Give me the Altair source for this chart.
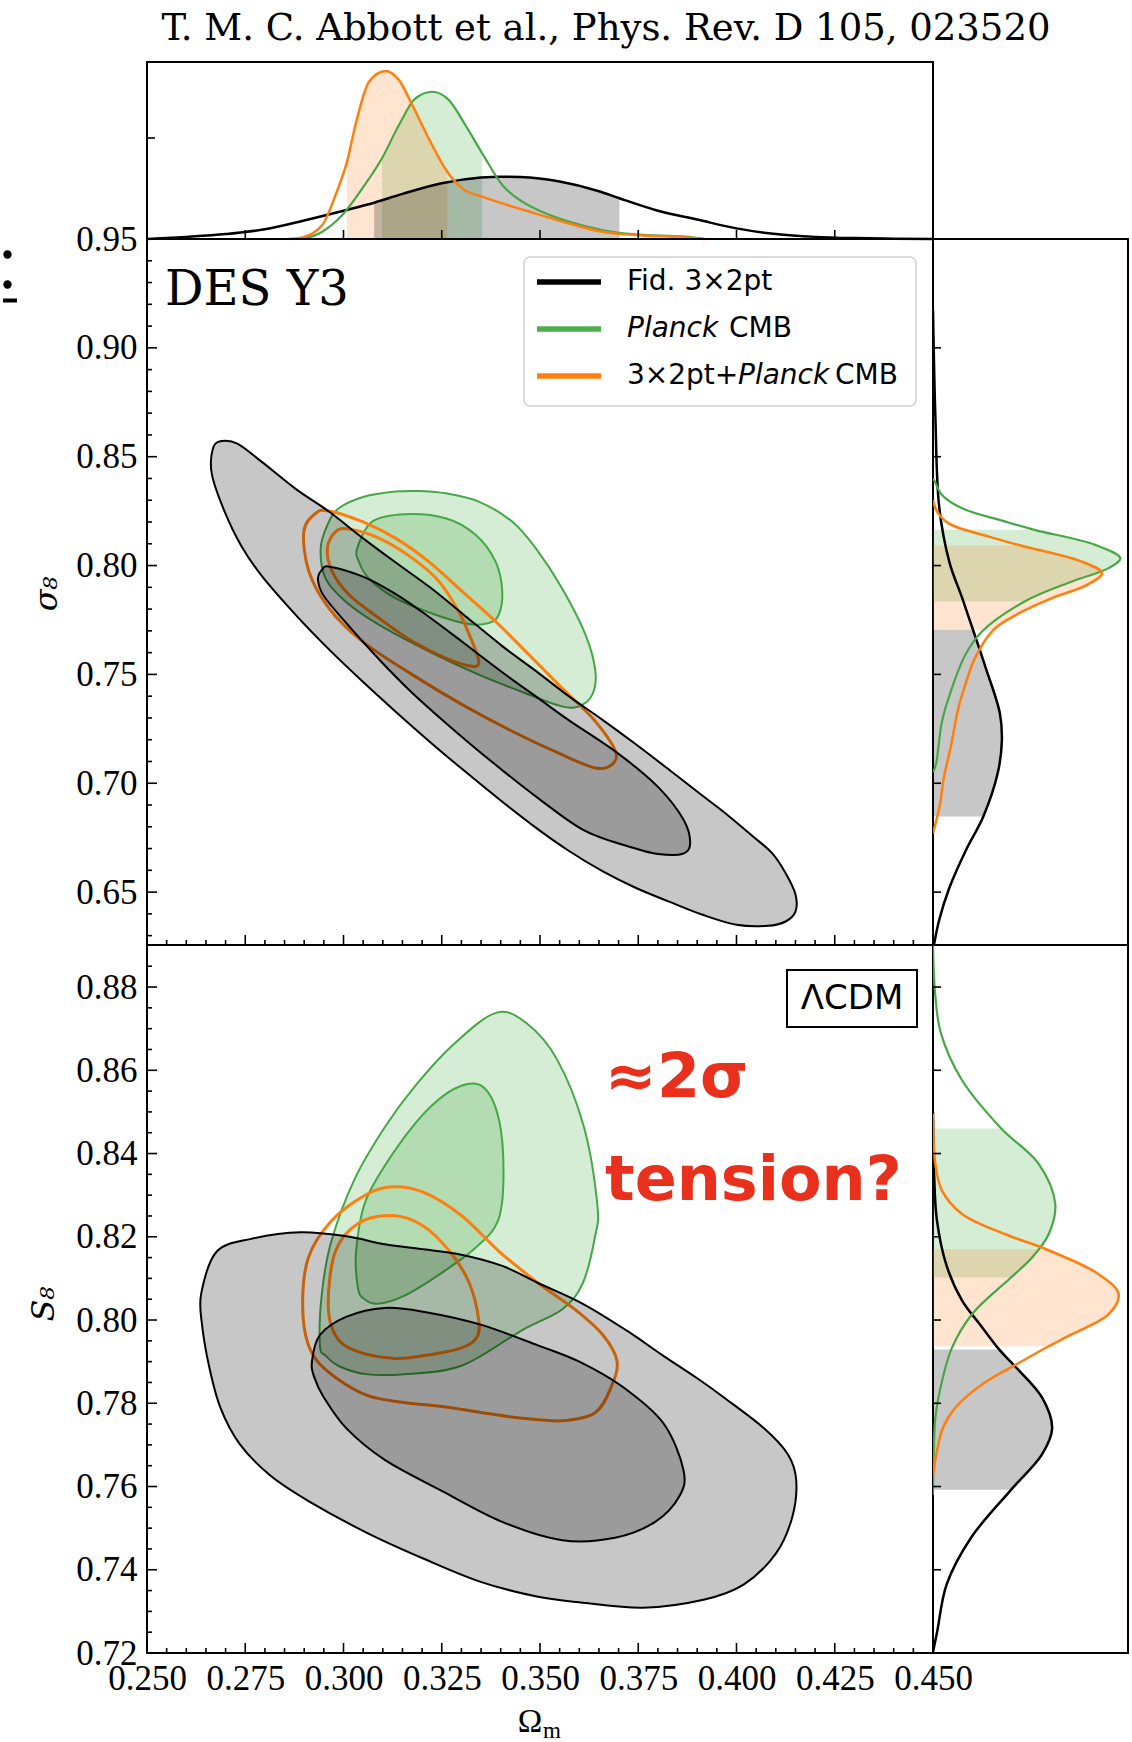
import altair as alt
import pandas as pd

# ---------------- panel geometry (plot areas, px) ----------------
W_MAIN, W_SIDE = 786, 195
H_TOP, H_SIG, H_S8 = 177, 706, 708

X_DOM = [0.25, 0.45]
SIG_DOM = [0.6257, 0.95]
S8_DOM = [0.72, 0.8901]
D_DOM = [0, 1]

# ---------------- tick values ----------------
OM_MAJOR = [0.250, 0.275, 0.300, 0.325, 0.350, 0.375, 0.400, 0.425, 0.450]
OM_INNER = [0.275, 0.300, 0.325, 0.350, 0.375, 0.400, 0.425]
OM_MINOR = [round(0.25 + 0.005 * k, 3) for k in range(1, 40) if k % 5 != 0]
SIG_MAJOR = [0.65, 0.70, 0.75, 0.80, 0.85, 0.90, 0.95]
SIG_MINOR = [round(0.60 + 0.01 * k, 2) for k in range(3, 35) if k % 5 != 0]
S8_MAJOR = [0.72, 0.74, 0.76, 0.78, 0.80, 0.82, 0.84, 0.86, 0.88]
S8_MINOR = [round(0.72 + 0.005 * k, 3) for k in range(1, 34) if k % 4 != 0]

# ---------------- 2D contours, sigma8 panel (Omega_m, sigma8) ----------------
sig_gray_outer_om = [0.2665, 0.2668, 0.2690, 0.2730, 0.2793, 0.2880, 0.2963, 0.3050, 0.3132, 0.3220,
                     0.3302, 0.3404, 0.3490, 0.3573, 0.3660, 0.3743, 0.3830, 0.3912, 0.3980, 0.4039,
                     0.4090, 0.4124, 0.4150, 0.4150, 0.4125, 0.4080, 0.4000, 0.3912, 0.3830, 0.3743,
                     0.3660, 0.3573, 0.3490, 0.3404, 0.3302, 0.3220, 0.3132, 0.3050, 0.2963, 0.2880,
                     0.2793, 0.2740, 0.2697]
sig_gray_outer_s = [0.8420, 0.8540, 0.8572, 0.8560, 0.8475, 0.8350, 0.8248, 0.8125, 0.8015, 0.7900,
                    0.7780, 0.7630, 0.7515, 0.7400, 0.7290, 0.7180, 0.7060, 0.6945, 0.6850, 0.6760,
                    0.6680, 0.6590, 0.6490, 0.6410, 0.6365, 0.6345, 0.6350, 0.6397, 0.6455, 0.6520,
                    0.6595, 0.6690, 0.6795, 0.6915, 0.7065, 0.7190, 0.7330, 0.7465, 0.7615, 0.7770,
                    0.7950, 0.8090, 0.8250]
sig_gray_inner_om = [0.2935, 0.2945, 0.2965, 0.3048, 0.3132, 0.3217, 0.3302, 0.3404, 0.3500, 0.3573,
                     0.3700, 0.3802, 0.3866, 0.3882, 0.3862, 0.3800, 0.3743, 0.3616, 0.3500, 0.3404,
                     0.3300, 0.3175, 0.3090, 0.3005, 0.2950]
sig_gray_inner_s = [0.7935, 0.7980, 0.7995, 0.7950, 0.7870, 0.7765, 0.7650, 0.7510, 0.7385, 0.7290,
                    0.7135, 0.6980, 0.6830, 0.6720, 0.6675, 0.6675, 0.6700, 0.6780, 0.6925, 0.7060,
                    0.7215, 0.7415, 0.7570, 0.7740, 0.7860]
sig_green_outer_om = [0.2942, 0.2960, 0.2988, 0.3050, 0.3132, 0.3200, 0.3260, 0.3344, 0.3429, 0.3489,
                      0.3556, 0.3616, 0.3641, 0.3633, 0.3599, 0.3556, 0.3472, 0.3344, 0.3217, 0.3090,
                      0.3005, 0.2954]
sig_green_outer_s = [0.8080, 0.8190, 0.8263, 0.8315, 0.8340, 0.8342, 0.8332, 0.8294, 0.8202, 0.8080,
                     0.7896, 0.7682, 0.7514, 0.7407, 0.7353, 0.7353, 0.7407, 0.7499, 0.7606, 0.7728,
                     0.7835, 0.7942]
sig_green_inner_om = [0.3035, 0.3073, 0.3158, 0.3260, 0.3336, 0.3387, 0.3404, 0.3395, 0.3370, 0.3319,
                      0.3234, 0.3132, 0.3064, 0.3039]
sig_green_inner_s = [0.8080, 0.8202, 0.8236, 0.8217, 0.8141, 0.8018, 0.7881, 0.7774, 0.7736, 0.7731,
                     0.7774, 0.7850, 0.7942, 0.8018]
sig_orange_outer_om = [0.2899, 0.2929, 0.2963, 0.3048, 0.3132, 0.3217, 0.3302, 0.3387, 0.3472, 0.3556,
                       0.3641, 0.3692, 0.3683, 0.3641, 0.3556, 0.3429, 0.3302, 0.3175, 0.3048, 0.2963,
                       0.2912]
sig_orange_outer_s = [0.8156, 0.8240, 0.8251, 0.8202, 0.8126, 0.8018, 0.7881, 0.7743, 0.7590, 0.7437,
                      0.7284, 0.7147, 0.7086, 0.7070, 0.7131, 0.7239, 0.7361, 0.7499, 0.7652, 0.7804,
                      0.7973]
sig_orange_inner_om = [0.2959, 0.2980, 0.3014, 0.3090, 0.3175, 0.3243, 0.3293, 0.3327, 0.3344, 0.3327,
                       0.3260, 0.3175, 0.3090, 0.3014, 0.2971]
sig_orange_inner_s = [0.8080, 0.8156, 0.8168, 0.8126, 0.8034, 0.7927, 0.7789, 0.7652, 0.7560, 0.7537,
                      0.7575, 0.7652, 0.7759, 0.7866, 0.7973]

# ---------------- 2D contours, S8 panel (Omega_m, S8) ----------------
s8_gray_outer_om = [0.2638, 0.2677, 0.2765, 0.2891, 0.3008, 0.3105, 0.3203, 0.3300, 0.3404, 0.3495,
                    0.3609, 0.3720, 0.3814, 0.3900, 0.3968, 0.4070, 0.4131, 0.4152, 0.4142, 0.4101,
                    0.4019, 0.3916, 0.3762, 0.3609, 0.3495, 0.3349, 0.3203, 0.3057, 0.2911, 0.2813,
                    0.2736, 0.2687, 0.2658, 0.2640]
s8_gray_outer_s = [0.8064, 0.8164, 0.8195, 0.8211, 0.8201, 0.8182, 0.8170, 0.8157, 0.8130, 0.8089,
                   0.8039, 0.7975, 0.7914, 0.7860, 0.7814, 0.7740, 0.7677, 0.7615, 0.7527, 0.7440,
                   0.7365, 0.7328, 0.7309, 0.7321, 0.7335, 0.7371, 0.7427, 0.7490, 0.7565, 0.7627,
                   0.7702, 0.7789, 0.7889, 0.7989]
s8_gray_inner_om = [0.2920, 0.2940, 0.3008, 0.3105, 0.3203, 0.3349, 0.3495, 0.3600, 0.3711, 0.3814,
                    0.3865, 0.3855, 0.3793, 0.3691, 0.3557, 0.3404, 0.3251, 0.3105, 0.3008, 0.2950,
                    0.2925]
s8_gray_inner_s = [0.7902, 0.7964, 0.8008, 0.8029, 0.8020, 0.7989, 0.7939, 0.7900, 0.7839, 0.7752,
                   0.7640, 0.7577, 0.7515, 0.7477, 0.7471, 0.7515, 0.7589, 0.7664, 0.7739, 0.7814,
                   0.7864]
s8_green_outer_om = [0.2940, 0.2945, 0.2969, 0.3028, 0.3105, 0.3183, 0.3281, 0.3388, 0.3466, 0.3544,
                     0.3612, 0.3646, 0.3640, 0.3609, 0.3557, 0.3455, 0.3300, 0.3154, 0.3057, 0.2989,
                     0.2955]
s8_green_outer_s = [0.7939, 0.8064, 0.8189, 0.8338, 0.8463, 0.8563, 0.8663, 0.8738, 0.8713, 0.8625,
                    0.8463, 0.8276, 0.8200, 0.8089, 0.8026, 0.7976, 0.7890, 0.7870, 0.7870, 0.7889,
                    0.7914]
s8_green_inner_om = [0.3037, 0.3032, 0.3057, 0.3135, 0.3222, 0.3300, 0.3359, 0.3397, 0.3407, 0.3393,
                     0.3339, 0.3251, 0.3154, 0.3086, 0.3052]
s8_green_inner_s = [0.8076, 0.8164, 0.8288, 0.8413, 0.8513, 0.8563, 0.8557, 0.8475, 0.8338, 0.8238,
                    0.8176, 0.8114, 0.8058, 0.8039, 0.8051]
s8_orange_outer_om = [0.2896, 0.2911, 0.2969, 0.3057, 0.3125, 0.3203, 0.3300, 0.3397, 0.3495, 0.3588,
                      0.3660, 0.3696, 0.3681, 0.3640, 0.3557, 0.3455, 0.3397, 0.3251, 0.3154, 0.3057,
                      0.2959, 0.2911]
s8_orange_outer_s = [0.8039, 0.8151, 0.8238, 0.8301, 0.8320, 0.8307, 0.8251, 0.8164, 0.8089, 0.8026,
                     0.7964, 0.7901, 0.7839, 0.7777, 0.7758, 0.7764, 0.7771, 0.7792, 0.7802, 0.7820,
                     0.7877, 0.7939]
s8_orange_inner_om = [0.2961, 0.2979, 0.3037, 0.3125, 0.3203, 0.3271, 0.3320, 0.3344, 0.3339, 0.3300,
                      0.3203, 0.3125, 0.3028, 0.2979]
s8_orange_inner_s = [0.8039, 0.8164, 0.8232, 0.8251, 0.8226, 0.8164, 0.8089, 0.8001, 0.7958, 0.7933,
                     0.7914, 0.7908, 0.7927, 0.7964]

# ---------------- 1D marginal of Omega_m (relative height) ----------------
top_black_om = [0.250, 0.260, 0.270, 0.280, 0.290, 0.300, 0.3078, 0.315, 0.325, 0.335, 0.340, 0.345,
                0.355, 0.365, 0.3702, 0.380, 0.390, 0.400, 0.410, 0.420, 0.430, 0.440, 0.450]
top_black_h = [0.000, 0.012, 0.028, 0.055, 0.105, 0.160, 0.205, 0.255, 0.315, 0.347, 0.352, 0.350,
               0.325, 0.270, 0.230, 0.160, 0.110, 0.060, 0.028, 0.012, 0.005, 0.002, 0.000]
top_green_om = [0.2895, 0.2946, 0.2997, 0.3048, 0.3098, 0.3141, 0.3183, 0.3226, 0.3268, 0.3310,
                0.3353, 0.3404, 0.3455, 0.3505, 0.3573, 0.3658, 0.3743, 0.3870, 0.392]
top_green_h = [0.000, 0.041, 0.135, 0.286, 0.456, 0.644, 0.794, 0.832, 0.785, 0.644,
               0.484, 0.305, 0.211, 0.154, 0.098, 0.051, 0.026, 0.013, 0.000]
top_orange_om = [0.286, 0.2895, 0.2946, 0.2980, 0.3009, 0.3031, 0.3065, 0.3107, 0.3141, 0.3175,
                 0.3217, 0.3264, 0.3302, 0.3353, 0.3404, 0.3488, 0.3573, 0.3658, 0.3743, 0.3870, 0.392]
top_orange_h = [0.000, 0.009, 0.079, 0.250, 0.437, 0.650, 0.889, 0.949, 0.898, 0.757,
                0.568, 0.380, 0.286, 0.239, 0.201, 0.145, 0.088, 0.041, 0.022, 0.009, 0.000]
top_black_band = [0.3078, 0.3702]
top_green_band = [0.3098, 0.3353]
top_orange_band = [0.3009, 0.3264]

# ---------------- 1D marginal of sigma8 ----------------
rs_black_v = [0.6257, 0.6373, 0.6520, 0.6689, 0.6847, 0.7047, 0.7194, 0.7321, 0.7531,
              0.7705, 0.7850, 0.8016, 0.8268, 0.8690, 0.9174]
rs_black_d = [0.005, 0.032, 0.084, 0.167, 0.258, 0.332, 0.353, 0.343, 0.270,
              0.205, 0.150, 0.084, 0.032, 0.012, 0.000]
rs_green_v = [0.7050, 0.7086, 0.7284, 0.7437, 0.7590, 0.7697, 0.7835, 0.7927, 0.7988, 0.8033,
              0.8095, 0.8164, 0.8202, 0.8263, 0.8324, 0.8385, 0.8400]
rs_green_d = [0.000, 0.015, 0.046, 0.097, 0.166, 0.251, 0.470, 0.713, 0.901, 0.961,
              0.832, 0.520, 0.371, 0.149, 0.046, 0.010, 0.000]
rs_orange_v = [0.677, 0.690, 0.7024, 0.7162, 0.7345, 0.7437, 0.7575, 0.7705, 0.7780, 0.7850,
               0.7911, 0.7965, 0.8018, 0.8092, 0.8133, 0.8194, 0.8248, 0.8300]
rs_orange_d = [0.000, 0.035, 0.055, 0.090, 0.130, 0.160, 0.215, 0.310, 0.440, 0.610,
               0.790, 0.867, 0.764, 0.450, 0.286, 0.080, 0.021, 0.000]
rs_black_band = [0.6847, 0.7705]
rs_green_band = [0.7835, 0.8164]
rs_orange_band = [0.7705, 0.8092]

# ---------------- 1D marginal of S8 ----------------
r8_black_v = [0.7202, 0.7253, 0.7365, 0.7477, 0.7592, 0.7677, 0.7740, 0.7814, 0.7889, 0.7929,
              0.7990, 0.8046, 0.8130, 0.8240, 0.8360, 0.8500]
r8_black_d = [0.000, 0.022, 0.070, 0.195, 0.400, 0.559, 0.611, 0.559, 0.420, 0.340,
              0.240, 0.150, 0.070, 0.020, 0.005, 0.000]
r8_green_v = [0.758, 0.768, 0.7765, 0.7853, 0.7933, 0.8014, 0.8102, 0.8150, 0.8206, 0.8279,
              0.8375, 0.8460, 0.8576, 0.869, 0.879, 0.890]
r8_green_d = [0.000, 0.004, 0.012, 0.046, 0.097, 0.200, 0.400, 0.508, 0.593, 0.627,
              0.542, 0.350, 0.149, 0.040, 0.010, 0.000]
r8_orange_v = [0.7627, 0.7689, 0.7740, 0.7789, 0.7845, 0.7901, 0.7937, 0.7966, 0.8014, 0.8062,
               0.8110, 0.8170, 0.8206, 0.8255, 0.8311, 0.8375, 0.8496]
r8_orange_d = [0.000, 0.022, 0.050, 0.114, 0.251, 0.456, 0.593, 0.713, 0.901, 0.952,
               0.850, 0.580, 0.371, 0.149, 0.046, 0.012, 0.000]
r8_black_band = [0.7592, 0.7929]
r8_green_band = [0.8102, 0.8460]
r8_orange_band = [0.7937, 0.8170]

# ---------------- styling ----------------
SERIF = "DejaVu Serif"
TICKFONT = "Liberation Serif"
SANS = "DejaVu Sans"
BLACK = "#000000"
GREEN = "#2ca02c"
GREEN_LINE = "#47a747"
ORANGE = "#ff7f0e"
RED = "#e8301c"
ONE = pd.DataFrame({"k": [0]})


def sc(dom):
    return alt.Scale(domain=dom, nice=False, zero=False)


def num_axis(vals, fmt, pad):
    return alt.Axis(values=vals, format=fmt, ticks=False, tickSize=0, domain=False, grid=False,
                    title="", labelFont=TICKFONT, labelFontSize=35, labelColor="black",
                    labelPadding=pad, labelFlush=False, labelOverlap=False)


SIG_AXIS = num_axis(SIG_MAJOR, ".2f", 10)
S8_AXIS = num_axis(S8_MAJOR, ".2f", 10)
X_AXIS = num_axis(OM_MAJOR, ".3f", 8)


def contour(om, v, ydom, xaxis, yaxis, stroke, sw, fill=None, fop=0.0):
    df = pd.DataFrame({"om": om, "v": v, "i": list(range(len(om)))})
    props = dict(interpolate="cardinal-closed", stroke=stroke, strokeWidth=sw, clip=True)
    if fill is not None:
        props.update(fill=fill, fillOpacity=fop)
    return alt.Chart(df).mark_line(**props).encode(
        x=alt.X("om:Q", scale=sc(X_DOM), axis=xaxis),
        y=alt.Y("v:Q", scale=sc(ydom), axis=yaxis),
        order=alt.Order("i:Q"),
    )


def yticks(vals, ydom, yaxis, length):
    df = pd.DataFrame({"v": vals})
    return alt.Chart(df).mark_rule(stroke="black", strokeWidth=1.6).encode(
        y=alt.Y("v:Q", scale=sc(ydom), axis=yaxis), x=alt.value(0), x2=alt.value(length))


def xticks(vals, xaxis, ypix, length):
    df = pd.DataFrame({"v": vals})
    return alt.Chart(df).mark_rule(stroke="black", strokeWidth=1.6).encode(
        x=alt.X("v:Q", scale=sc(X_DOM), axis=xaxis), y=alt.value(ypix), y2=alt.value(ypix - length))


def label(text, x, y, size, font=SANS, color="black", align="left", baseline="middle",
          style=None, weight=None, angle=None):
    props = dict(text=text, fontSize=size, font=font, color=color, align=align, baseline=baseline)
    if style:
        props["fontStyle"] = style
    if weight:
        props["fontWeight"] = weight
    if angle is not None:
        props["angle"] = angle
    return alt.Chart(ONE).mark_text(**props).encode(x=alt.value(x), y=alt.value(y))


def dot(x, y, size):
    return alt.Chart(ONE).mark_point(filled=True, color="black", size=size, opacity=1).encode(
        x=alt.value(x), y=alt.value(y))


def top_area(om, h, band, color, op):
    df = pd.DataFrame({"om": om, "h": h})
    return alt.Chart(df).transform_filter(
        (alt.datum.om >= band[0]) & (alt.datum.om <= band[1])
    ).mark_area(interpolate="monotone", color=color, opacity=op).encode(
        x=alt.X("om:Q", scale=sc(X_DOM), axis=None),
        y=alt.Y("h:Q", scale=sc(D_DOM), axis=None, stack=None))


def top_line(om, h, color, sw):
    df = pd.DataFrame({"om": om, "h": h})
    return alt.Chart(df).mark_line(interpolate="monotone", stroke=color, strokeWidth=sw).encode(
        x=alt.X("om:Q", scale=sc(X_DOM), axis=None),
        y=alt.Y("h:Q", scale=sc(D_DOM), axis=None))


def side_area(v, d, band, ydom, color, op):
    df = pd.DataFrame({"v": v, "d": d})
    return alt.Chart(df).transform_filter(
        (alt.datum.v >= band[0]) & (alt.datum.v <= band[1])
    ).mark_area(orient="horizontal", interpolate="catmull-rom", color=color, opacity=op).encode(
        y=alt.Y("v:Q", scale=sc(ydom), axis=None),
        x=alt.X("d:Q", scale=sc(D_DOM), axis=None, stack=None))


def side_line(v, d, ydom, color, sw):
    df = pd.DataFrame({"v": v, "d": d})
    return alt.Chart(df).mark_line(interpolate="catmull-rom", stroke=color, strokeWidth=sw,
                                   clip=True).encode(
        y=alt.Y("v:Q", scale=sc(ydom), axis=None),
        x=alt.X("d:Q", scale=sc(D_DOM), axis=None),
        order=alt.Order("v:Q"))


# ---------------- top marginal ----------------
top_layers = [
    top_area(top_green_om, top_green_h, top_green_band, GREEN, 0.2),
    top_area(top_orange_om, top_orange_h, top_orange_band, ORANGE, 0.2),
    top_area(top_black_om, top_black_h, top_black_band, BLACK, 0.22),
    top_line(top_black_om, top_black_h, BLACK, 2.5),
    top_line(top_green_om, top_green_h, GREEN_LINE, 2.2),
    top_line(top_orange_om, top_orange_h, ORANGE, 2.5),
    xticks(OM_INNER, None, H_TOP, 9),
    alt.Chart(ONE).mark_rule(stroke="black", strokeWidth=1.6).encode(
        x=alt.value(0), x2=alt.value(8), y=alt.value(76)),
    label("T. M. C. Abbott et al., Phys. Rev. D 105, 023520", 459, -22, 37, font=SERIF,
          align="center", baseline="alphabetic"),
    alt.Chart(ONE).mark_rule(opacity=0).encode(
        x=alt.value(-144.7), x2=alt.value(-144), y=alt.value(-61), y2=alt.value(-60)),
]
top = alt.layer(*top_layers).properties(width=W_MAIN, height=H_TOP)

blank = alt.Chart(ONE).mark_point(opacity=0).encode(
    x=alt.value(0), y=alt.value(0)
).properties(width=W_SIDE, height=H_TOP, view=alt.ViewBackground(stroke="transparent"))

# ---------------- sigma8 vs Omega_m ----------------
sig_layers = [
    contour(sig_green_outer_om, sig_green_outer_s, SIG_DOM, None, SIG_AXIS, GREEN_LINE, 2, GREEN, 0.2),
    contour(sig_green_inner_om, sig_green_inner_s, SIG_DOM, None, SIG_AXIS, GREEN_LINE, 2, GREEN, 0.2),
    contour(sig_orange_outer_om, sig_orange_outer_s, SIG_DOM, None, SIG_AXIS, ORANGE, 3),
    contour(sig_orange_inner_om, sig_orange_inner_s, SIG_DOM, None, SIG_AXIS, ORANGE, 3),
    contour(sig_gray_outer_om, sig_gray_outer_s, SIG_DOM, None, SIG_AXIS, BLACK, 2, BLACK, 0.22),
    contour(sig_gray_inner_om, sig_gray_inner_s, SIG_DOM, None, SIG_AXIS, BLACK, 2, BLACK, 0.22),
    yticks(SIG_MAJOR, SIG_DOM, SIG_AXIS, 10),
    yticks(SIG_MINOR, SIG_DOM, SIG_AXIS, 5),
    xticks(OM_INNER, None, H_SIG, 10),
    xticks(OM_MINOR, None, H_SIG, 5),
    label("DES Y3", 18, 66, 48, font=SERIF, baseline="alphabetic"),
    alt.Chart(ONE).mark_rect(fill="white", stroke="#cccccc", strokeWidth=1.5, cornerRadius=6,
                             opacity=0.9).encode(
        x=alt.value(377), x2=alt.value(769), y=alt.value(18), y2=alt.value(167)),
    alt.Chart(ONE).mark_rule(stroke=BLACK, strokeWidth=5.5).encode(
        x=alt.value(390), x2=alt.value(454), y=alt.value(43)),
    alt.Chart(ONE).mark_rule(stroke="#4caf4c", strokeWidth=5.5).encode(
        x=alt.value(390), x2=alt.value(454), y=alt.value(90)),
    alt.Chart(ONE).mark_rule(stroke=ORANGE, strokeWidth=5.5).encode(
        x=alt.value(390), x2=alt.value(454), y=alt.value(137)),
    label("Fid. 3×2pt", 480, 43, 28),
    label("Planck", 480, 90, 28, style="italic"),
    label("CMB", 582, 90, 28),
    label("3×2pt+", 480, 137, 28),
    label("Planck", 591, 137, 28, style="italic"),
    label("CMB", 688, 137, 28),
    label("σ₈", -100, 355, 32, font=SERIF, align="center", style="italic", angle=270),
    # cropped slide glyph at the very left edge
    dot(-139.5, 15.5, 70),
    dot(-139.5, 45.5, 70),
    alt.Chart(ONE).mark_rule(stroke="black", strokeWidth=4).encode(
        x=alt.value(-144), x2=alt.value(-130), y=alt.value(61.5)),
]
sig = alt.layer(*sig_layers).properties(width=W_MAIN, height=H_SIG)

sigr_layers = [
    side_area(rs_green_v, rs_green_d, rs_green_band, SIG_DOM, GREEN, 0.2),
    side_area(rs_orange_v, rs_orange_d, rs_orange_band, SIG_DOM, ORANGE, 0.2),
    side_area(rs_black_v, rs_black_d, rs_black_band, SIG_DOM, BLACK, 0.22),
    side_line(rs_black_v, rs_black_d, SIG_DOM, BLACK, 2.5),
    side_line(rs_green_v, rs_green_d, SIG_DOM, GREEN_LINE, 2.2),
    side_line(rs_orange_v, rs_orange_d, SIG_DOM, ORANGE, 2.5),
    yticks(SIG_MAJOR[:-1], SIG_DOM, None, 8),
]
sigr = alt.layer(*sigr_layers).properties(width=W_SIDE, height=H_SIG)

# ---------------- S8 vs Omega_m ----------------
s8_layers = [
    contour(s8_green_outer_om, s8_green_outer_s, S8_DOM, X_AXIS, S8_AXIS, GREEN_LINE, 2, GREEN, 0.2),
    contour(s8_green_inner_om, s8_green_inner_s, S8_DOM, X_AXIS, S8_AXIS, GREEN_LINE, 2, GREEN, 0.2),
    contour(s8_orange_outer_om, s8_orange_outer_s, S8_DOM, X_AXIS, S8_AXIS, ORANGE, 3),
    contour(s8_orange_inner_om, s8_orange_inner_s, S8_DOM, X_AXIS, S8_AXIS, ORANGE, 3),
    contour(s8_gray_outer_om, s8_gray_outer_s, S8_DOM, X_AXIS, S8_AXIS, BLACK, 2, BLACK, 0.22),
    contour(s8_gray_inner_om, s8_gray_inner_s, S8_DOM, X_AXIS, S8_AXIS, BLACK, 2, BLACK, 0.22),
    yticks(S8_MAJOR, S8_DOM, S8_AXIS, 10),
    yticks(S8_MINOR, S8_DOM, S8_AXIS, 5),
    xticks(OM_INNER, X_AXIS, H_S8, 10),
    xticks(OM_MINOR, X_AXIS, H_S8, 5),
    alt.Chart(ONE).mark_rect(fill="white", stroke="black", strokeWidth=2).encode(
        x=alt.value(640), x2=alt.value(770), y=alt.value(25), y2=alt.value(82)),
    label("ΛCDM", 705, 54, 34, align="center"),
    label("≈2σ", 458, 152, 62, color=RED, weight="bold", baseline="alphabetic"),
    label("tension?", 458, 255, 62, color=RED, weight="bold", baseline="alphabetic"),
    label("S₈", -103, 359, 32, font=SERIF, align="center", style="italic", angle=270),
    label("Ω", 383, 787, 33, font=TICKFONT, align="center", baseline="alphabetic"),
    label("m", 396, 793, 23, font=TICKFONT, baseline="alphabetic"),
]
s8 = alt.layer(*s8_layers).properties(width=W_MAIN, height=H_S8)

s8r_layers = [
    side_area(r8_green_v, r8_green_d, r8_green_band, S8_DOM, GREEN, 0.2),
    side_area(r8_orange_v, r8_orange_d, r8_orange_band, S8_DOM, ORANGE, 0.2),
    side_area(r8_black_v, r8_black_d, r8_black_band, S8_DOM, BLACK, 0.22),
    side_line(r8_black_v, r8_black_d, S8_DOM, BLACK, 2.5),
    side_line(r8_green_v, r8_green_d, S8_DOM, GREEN_LINE, 2.2),
    side_line(r8_orange_v, r8_orange_d, S8_DOM, ORANGE, 2.5),
    yticks(S8_MAJOR[1:], S8_DOM, None, 8),
]
s8r = alt.layer(*s8r_layers).properties(width=W_SIDE, height=H_S8)

chart = alt.concat(top, blank, sig, sigr, s8, s8r, columns=2, spacing=0, bounds="flush").properties(
    padding=0, background="white"
).configure_view(stroke="black", strokeWidth=2)

chart.save("out.html", embed_options={"renderer": "svg", "actions": False})
